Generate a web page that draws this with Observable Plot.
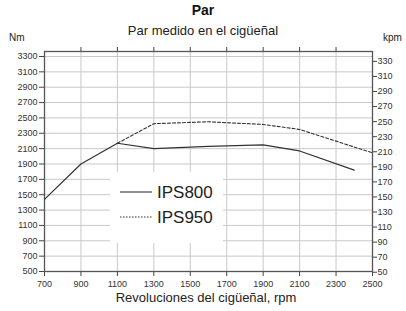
<!DOCTYPE html>
<html>
<head>
<meta charset="utf-8">
<script src="https://cdn.jsdelivr.net/npm/d3@7"></script>
<script src="https://cdn.jsdelivr.net/npm/@observablehq/plot@0.6"></script>
<style>
  html, body { margin: 0; padding: 0; background: #fff; }
  #wrap { position: relative; width: 406px; height: 311px; font-family: "Liberation Sans", Arial, sans-serif; color: #222; }
  .lbl { position: absolute; white-space: nowrap; line-height: 1; }
  #legend { position: absolute; left: 110px; top: 172px; width: 113px; height: 71px; background: #fff; }
</style>
</head>
<body>
<div id="wrap"></div>
<script>
// Data
const rpm800 = [700, 900, 1100, 1300, 1600, 1900, 2100, 2400];
const nm800  = [1440, 1900, 2170, 2100, 2130, 2150, 2070, 1820];
const rpm950 = [1100, 1300, 1600, 1900, 2100, 2500];
const nm950  = [2170, 2425, 2450, 2415, 2350, 2045];
const xTicks = [700, 900, 1100, 1300, 1500, 1700, 1900, 2100, 2300, 2500];
const yTicks = [500, 700, 900, 1100, 1300, 1500, 1700, 1900, 2100, 2300, 2500, 2700, 2900, 3100, 3300];
const kpmTicks = [50, 70, 90, 110, 130, 150, 170, 190, 210, 230, 250, 270, 290, 310, 330];
const seriesNames = ["IPS800", "IPS950"];
const KPM = 9.80665;

const d800 = rpm800.map((r, i) => ({rpm: r, nm: nm800[i]}));
const d950 = rpm950.map((r, i) => ({rpm: r, nm: nm950[i]}));

const ink = "#333";
const chart = Plot.plot({
  width: 406,
  height: 311,
  marginLeft: 44,
  marginRight: 34,
  marginTop: 51,
  marginBottom: 40,
  style: {fontFamily: "Liberation Sans, Arial, sans-serif", fontSize: "9px", color: "#333", background: "#fff"},
  x: {domain: [700, 2500]},
  y: {domain: [500, 3365]},
  marks: [
    Plot.gridX(xTicks.slice(1, -1), {stroke: "#c8c8c8", strokeOpacity: 1}),
    Plot.gridY(yTicks.slice(1), {stroke: "#c8c8c8", strokeOpacity: 1}),
    Plot.axisY(yTicks, {anchor: "left", tickSize: 5, tickPadding: 2, stroke: "#444", fill: "#333", label: null, fontSize: 9, tickFormat: d => String(d), style: "letter-spacing:-0.4px"}),
    Plot.axisY(kpmTicks.map(k => k * KPM), {anchor: "right", tickSize: 4, tickPadding: 1, stroke: "#444", fill: "#333", label: null, fontSize: 9, tickFormat: d => String(Math.round(d / KPM)), style: "letter-spacing:-0.4px"}),
    Plot.axisX(xTicks, {anchor: "bottom", tickSize: 5, tickPadding: 4, stroke: "#444", fill: "#333", label: null, fontSize: 9, tickFormat: d => String(d), style: "letter-spacing:-0.4px"}),
    Plot.axisX(xTicks.slice(1, -1), {anchor: "top", tickSize: 5, stroke: "#444", label: null, tickFormat: () => ""}),
    Plot.frame({stroke: "#555", strokeWidth: 1.3}),
    Plot.line(d800, {x: "rpm", y: "nm", stroke: ink, strokeWidth: 1.2}),
    Plot.line(d950, {x: "rpm", y: "nm", stroke: ink, strokeWidth: 1.1, strokeDasharray: "3,2"})
  ]
});

const wrap = document.getElementById("wrap");
chart.style.position = "absolute";
chart.style.left = "0px";
chart.style.top = "0px";
wrap.appendChild(chart);

function label(text, css) {
  const d = document.createElement("div");
  d.className = "lbl";
  d.textContent = text;
  Object.assign(d.style, css);
  wrap.appendChild(d);
  return d;
}
label("Par", {left: "0px", width: "406px", textAlign: "center", top: "3px", fontSize: "14px", fontWeight: "bold", color: "#111"});
label("Par medido en el cigüeñal", {left: "0px", width: "406px", textAlign: "center", top: "24px", fontSize: "13px", color: "#222"});
label("Nm", {left: "9px", top: "33px", fontSize: "10px", color: "#222"});
label("kpm", {left: "383px", top: "33px", fontSize: "10px", color: "#222"});
label("Revoluciones del cigüeñal, rpm", {left: "0px", width: "412px", textAlign: "center", top: "291px", fontSize: "13px", color: "#222"});

// Legend overlay
const leg = document.createElement("div");
leg.id = "legend";
leg.innerHTML = `<svg width="113" height="71" style="position:absolute;left:0;top:0;font-family:Liberation Sans, Arial, sans-serif">
  <line x1="10" x2="42" y1="20" y2="20" stroke="${ink}" stroke-width="1.1"/>
  <text x="47" y="26" font-size="17" fill="#222">${seriesNames[0]}</text>
  <line x1="10" x2="42" y1="45" y2="45" stroke="${ink}" stroke-width="1" stroke-dasharray="1.5,1.5"/>
  <text x="47" y="51" font-size="17" fill="#222">${seriesNames[1]}</text>
</svg>`;
wrap.appendChild(leg);
</script>
</body>
</html>
